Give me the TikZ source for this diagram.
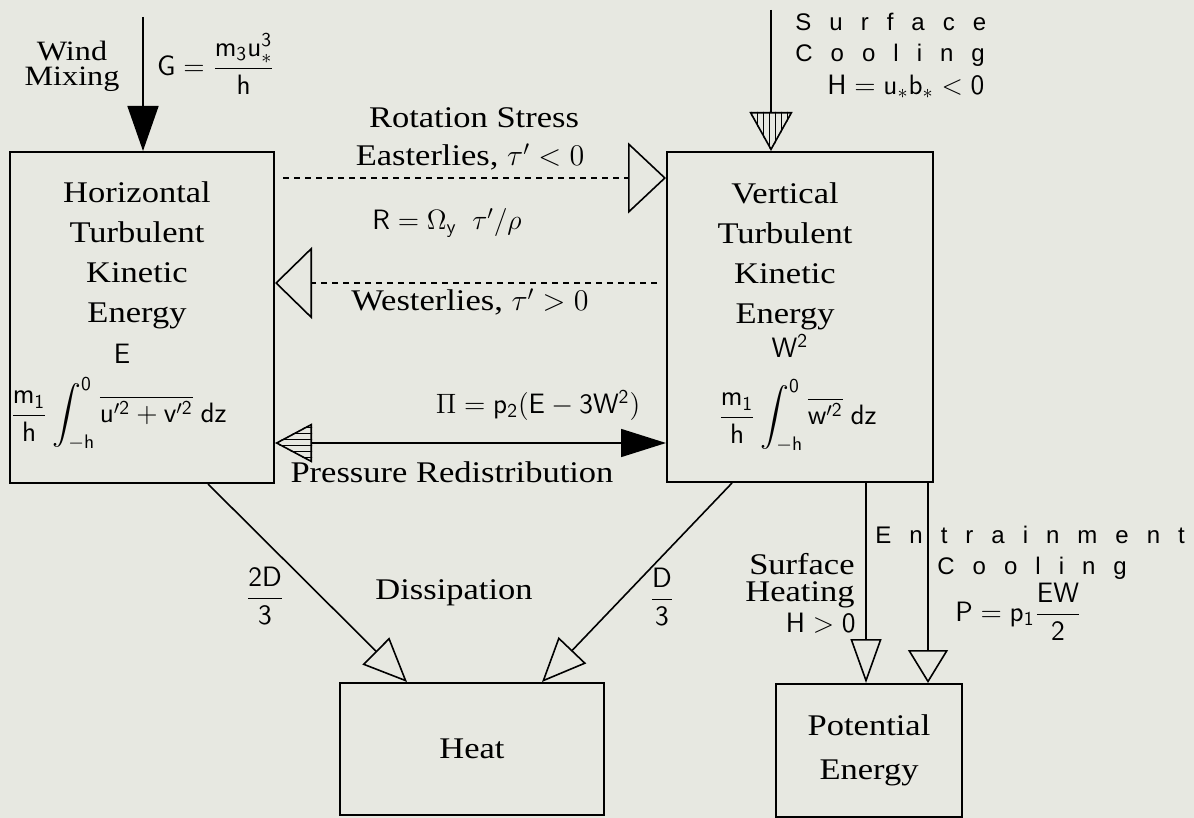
\RequirePackage{fix-cm}
\documentclass[tikz,border=0pt]{standalone}
\usepackage{amsmath}
\usepackage{fontspec}
\setmainfont{Liberation Serif}
\newfontfamily\scanserif[FakeStretch=1.15]{Liberation Serif}
\newfontfamily\scansans{Liberation Sans}
\newfontfamily\spacedsans[LetterSpace=75]{Liberation Sans}
\usepackage{tikz}
\usetikzlibrary{positioning,arrows.meta,patterns}
\definecolor{paper}{RGB}{231,232,225}

\begin{document}
\begin{tikzpicture}[
        x=0.5pt, y=-0.5pt,
        every node/.style={font=\scanserif\fontsize{15}{20}\selectfont, align=center, inner sep=1pt},
        ebox/.style={rectangle, draw=black, line width=1pt, inner sep=0pt},
        eqn/.style={font=\scansans\fontsize{14}{16}\selectfont, inner sep=0pt},
        spaced/.style={font=\spacedsans\fontsize{12}{16}\selectfont},
        flow/.style={line width=0.8pt, black},
        rotdash/.style={dash pattern=on 3pt off 2.5pt}
    ]
    \useasboundingbox (0,0) rectangle (1194,818);
    \fill[paper] (0,0) rectangle (1194,818);
    % Boxes
    \node[ebox, minimum width=132pt, minimum height=165.5pt] (hke) at (142,317.5) {};
    \node[ebox, minimum width=133pt, minimum height=165pt] (vke) at (800,317) {};
    \node[ebox, minimum width=132pt, minimum height=66pt] (heat) at (472,749) {Heat};
    \node[ebox, minimum width=93pt, minimum height=66.5pt, font=\scanserif\fontsize{15}{22}\selectfont] (pe) at (869,750.5) {Potential\\Energy};
    % Box texts
    \node (htxt) at (137,255) {Horizontal\\Turbulent\\Kinetic\\Energy};
    \node[eqn] (hsym) at (122,354) {$\mathsf{E}$};
    \node[eqn, anchor=west] (hint) at (10,414) {$\dfrac{\mathsf{m_1}}{\mathsf{h}}\displaystyle\int_{\mathsf{-h}}^{\mathsf{0}}\overline{\mathsf{u'^2+v'^2}}\;\mathsf{dz}$};
    \node (vtxt) at (785,256) {Vertical\\Turbulent\\Kinetic\\Energy};
    \node[eqn] (vsym) at (790,346) {$\mathsf{W^2}$};
    \node[eqn, anchor=west] (vint) at (718,416) {$\dfrac{\mathsf{m_1}}{\mathsf{h}}\displaystyle\int_{\mathsf{-h}}^{\mathsf{0}}\overline{\mathsf{w'^2}}\;\mathsf{dz}$};
    % Labels
    \node[font=\scanserif\fontsize{14}{12.5}\selectfont] (windlbl) at (72,66) {Wind\\Mixing};
    \node[eqn] (glbl) at (216,64) {$\mathsf{G}=\dfrac{\mathsf{m_3u_*^3}}{\mathsf{h}}$};
    \node (rotlbl) at (474,118) {Rotation Stress};
    \node (ealbl) at (470,157) {Easterlies, $\tau' < 0$};
    \node[eqn] (rlbl) at (447,223) {$\mathsf{R}=\Omega_{\mathsf{y}}\;\;\tau'/\rho$};
    \node (welbl) at (470,302) {Westerlies, $\tau' > 0$};
    \node[eqn] (pilbl) at (538,405) {$\Pi=\mathsf{p_2(E-3W^2)}$};
    \node (prlbl) at (452,472) {Pressure Redistribution};
    \node[eqn] (dlft) at (265,596) {$\dfrac{\mathsf{2D}}{\mathsf{3}}$};
    \node[eqn] (drgt) at (662,597) {$\dfrac{\mathsf{D}}{\mathsf{3}}$};
    \node (disslbl) at (454,593) {Dissipation};
    \node[spaced, anchor=west] (scool1) at (793,22) {Surface};
    \node[spaced, anchor=west] (scool2) at (793,55) {Cooling};
    \node[eqn, anchor=west] (hneg) at (827,87) {$\mathsf{H=u_*b_*<0}$};
    \node[anchor=east, align=right, font=\scanserif\fontsize{15}{13.5}\selectfont] (shlbl) at (857,581) {Surface\\Heating};
    \node[eqn, anchor=east] (hpos) at (856,623) {$\mathsf{H>0}$};
    \node[spaced, anchor=west] (entlbl) at (873,535) {Entrainment};
    \node[spaced, anchor=west] (ecool) at (935,568) {Cooling};
    \node[eqn, anchor=west] (plbl) at (955,612) {$\mathsf{P}=\mathsf{p}_{\mathsf{1}}\dfrac{\mathsf{EW}}{\mathsf{2}}$};
    % Free ends and levels
    \coordinate (wtop) at (143,17);
    \coordinate (ea) at (470,178);
    \coordinate (we) at (470,283);
    \coordinate (pr) at (470,443);
    \coordinate (sc) at (771,10);
    \coordinate (sh) at (866,0);
    \coordinate (en) at (928,0);
    % Arrows
    \draw[flow, -{Triangle[length=22.5pt,width=15.5pt]}] (wtop) -- (wtop |- hke.north);
    \draw[flow, rotdash, shorten <=4pt, -{Triangle[open,length=19pt,width=35.5pt]}] (ea -| hke.east) -- (ea -| vke.west);
    \draw[flow, rotdash, shorten <=4.5pt, -{Triangle[open,length=18.5pt,width=36pt]}] (we -| vke.west) -- (we -| hke.east);
    \draw[flow, {Triangle[open,length=18.5pt,width=19.5pt]}-{Triangle[length=22.5pt,width=14pt]}] (pr -| hke.east) -- (pr -| vke.west);
    \fill[pattern=horizontal lines] (pr -| hke.east) -- ++(37,-19.5) -- ++(0,39) -- cycle;
    \draw[flow, -{Triangle[open,length=19.5pt,width=21.5pt]}] (sc) -- (sc |- vke.north);
    \fill[pattern=vertical lines] (sc |- vke.north) -- ++(-21.5,-39) -- ++(43,0) -- cycle;
    \draw[flow, -{Triangle[open,length=22pt,width=19pt]}] ([xshift=33pt]hke.south) -- ([xshift=-32.5pt]heat.north);
    \draw[flow, -{Triangle[open,length=22pt,width=19pt]}] ([xshift=-34pt]vke.south) -- ([xshift=35pt]heat.north);
    \draw[flow, -{Triangle[open,length=22pt,width=15.5pt]}] (sh |- vke.south) -- (sh |- pe.north);
    \draw[flow, -{Triangle[open,length=16.5pt,width=20pt]}] (en |- vke.south) -- (en |- pe.north);
\end{tikzpicture}
\end{document}
